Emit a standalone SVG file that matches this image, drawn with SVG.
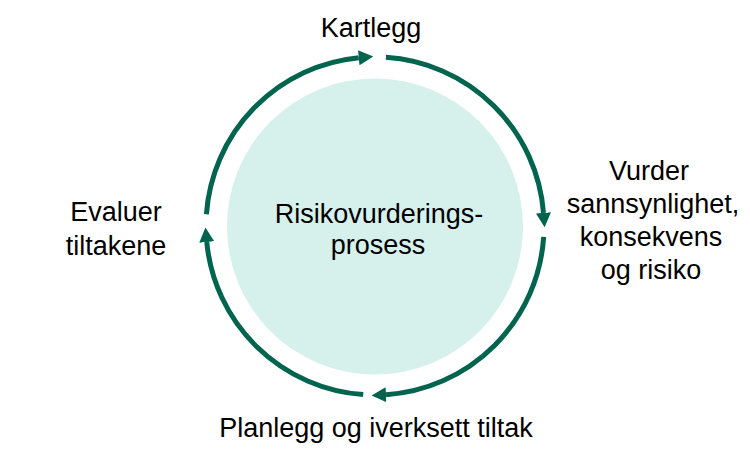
<svg xmlns="http://www.w3.org/2000/svg" width="750" height="452" viewBox="0 0 750 452">
<style>
.lbl{font-family:"Liberation Sans",Arial,sans-serif;font-size:27px;fill:#000;text-anchor:middle}
.arc{fill:none;stroke:#00644F;stroke-width:5}
</style>
<defs>
<marker id="ah" markerUnits="userSpaceOnUse" markerWidth="16" markerHeight="16" refX="0" refY="7.5" orient="auto" viewBox="0 0 16 16">
<path d="M0,0 L14.5,7.5 L0,15 z" fill="#00644F"/>
</marker>
</defs>
<rect width="750" height="452" fill="#fff"/>
<g id="center">
<circle cx="375" cy="226.5" r="148" fill="#D6F0EC"/>
<text class="lbl" x="379" y="223">Risikovurderings-</text>
<text class="lbl" x="378" y="254">prosess</text>
</g>
<g id="connectors">
<path class="arc" d="M206.41,214.21 A169,169 0 0 1 358.8,57.78" marker-end="url(#ah)"/>
<path class="arc" d="M385.91,57.35 A169,169 0 0 1 543.49,212.89" marker-end="url(#ah)"/>
<path class="arc" d="M543.65,236.91 A169,169 0 0 1 386.05,394.64" marker-end="url(#ah)"/>
<path class="arc" d="M363.21,394.59 A169,169 0 0 1 206.76,242.05" marker-end="url(#ah)"/>
</g>
<g id="kartlegg">
<text class="lbl" x="371" y="37">Kartlegg</text>
</g>
<g id="vurder">
<text class="lbl" x="649" y="180">Vurder</text>
<text class="lbl" x="653" y="213">sannsynlighet,</text>
<text class="lbl" x="651" y="246">konsekvens</text>
<text class="lbl" x="651" y="279">og risiko</text>
</g>
<g id="planlegg">
<text class="lbl" x="376" y="437">Planlegg og iverksett tiltak</text>
</g>
<g id="evaluer">
<text class="lbl" x="116" y="221">Evaluer</text>
<text class="lbl" x="116" y="255">tiltakene</text>
</g>
</svg>
